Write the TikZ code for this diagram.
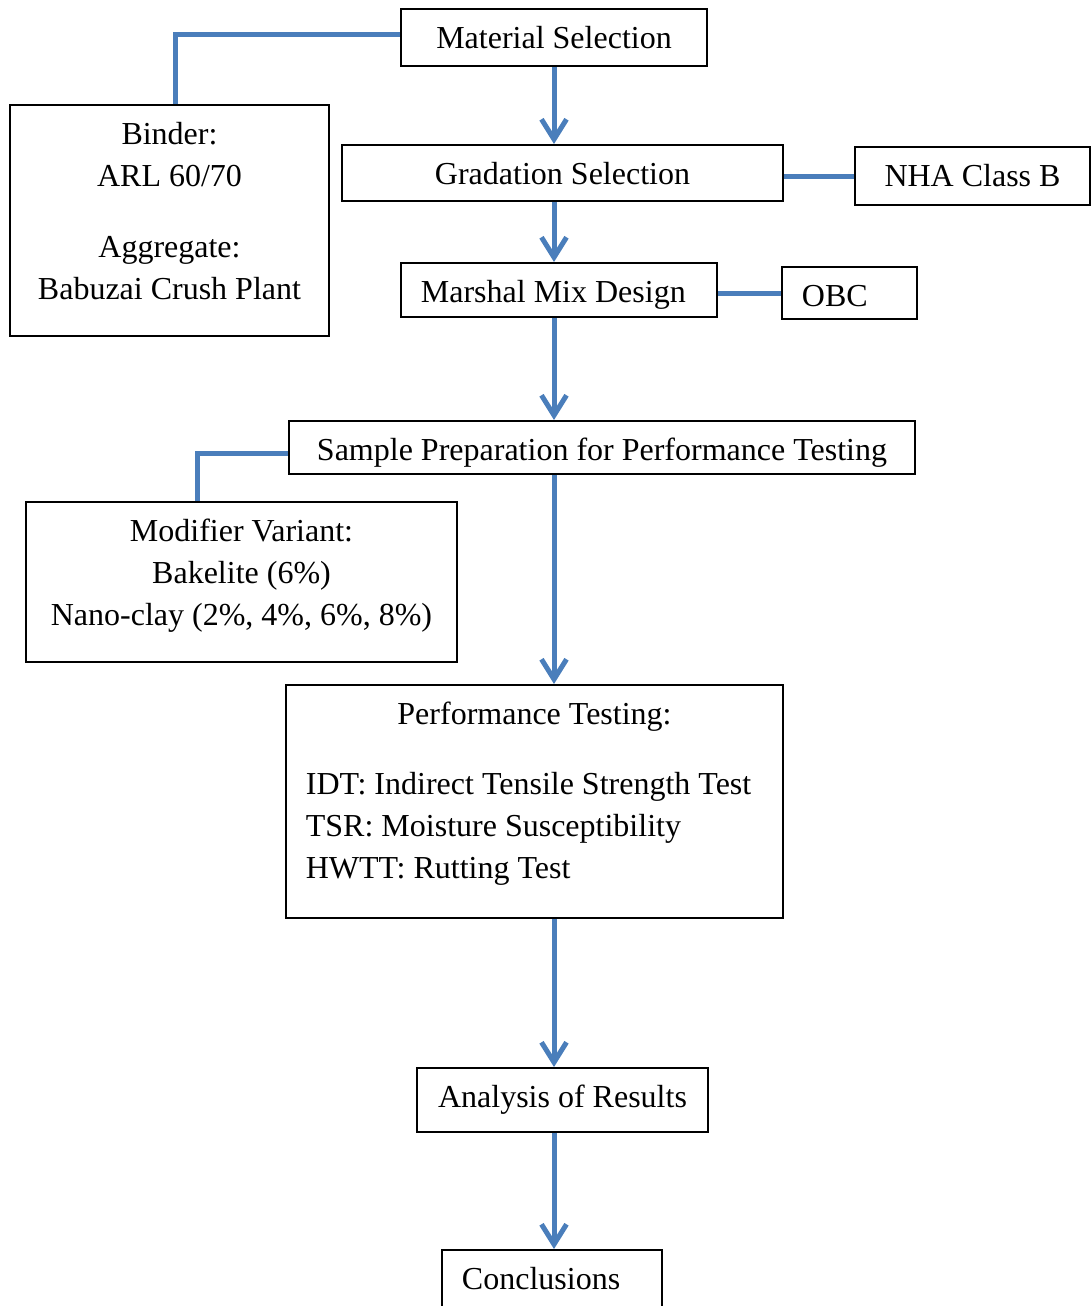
\documentclass[tikz,border=0pt]{standalone}
\usepackage{fontspec}
\setmainfont{Liberation Serif}
\usetikzlibrary{arrows.meta}
\definecolor{linkblue}{HTML}{4A7EBB}

\begin{document}
\begin{tikzpicture}[x=0.01cm,y=-0.01cm,font=\fontsize{9.1pt}{11.95pt}\selectfont,
		stage/.style={draw=black,line width=0.6pt,anchor=north,inner xsep=0.2cm,inner ysep=0pt,
			text height=0.39cm,text depth=#1-0.39cm,minimum height=#1,
			execute at begin node={\spaceskip=0.25em\xspaceskip=0.25em\relax}},
		link/.style={draw=linkblue,line width=0.05cm},
		flow/.style={link,-{Straight Barb[length=0.2cm,width=0.25cm]}}]
		\useasboundingbox (0,0) rectangle (1091,1306);
		\clip (0,0) rectangle (1091,1306);
		%
		\node [stage=0.57cm,minimum width=3.06cm] (mat) at (554,8) {Material Selection};
		\node [stage=2.31cm,inner xsep=0.05cm,text width=3.09cm,align=center] (binder) at (169.5,104)
		{Binder:\\ ARL 60/70\\[0.29cm] Aggregate:\\ Babuzai Crush Plant};
		\node [stage=0.56cm,minimum width=4.41cm] (grad) at (562.5,144) {Gradation Selection};
		\node [stage=0.58cm,minimum width=2.35cm] (nha) at (972.5,146) {NHA Class B};
		\node [stage=0.54cm,text width=2.76cm,align=left] (marsh) at (559,262) {Marshal Mix Design};
		\node [stage=0.52cm,text width=0.95cm,align=left] (obc) at (849.5,266) {OBC};
		\node [stage=0.53cm,minimum width=6.26cm] (samp) at (602,420) {Sample Preparation for Performance Testing};
		\node [stage=1.60cm,inner xsep=0.05cm,text width=4.21cm,align=center] (modif) at (241.5,501)
		{Modifier Variant:\\ Bakelite (6\%)\\ Nano-clay (2\%, 4\%, 6\%, 8\%)};
		\node [stage=2.33cm,text width=4.57cm,align=left] (perf) at (534.5,684)
		{\makebox[\linewidth]{Performance Testing:}\\[0.28cm]
			IDT: Indirect Tensile Strength Test\\ TSR: Moisture Susceptibility\\ HWTT: Rutting Test};
		\node [stage=0.64cm,minimum width=2.91cm] (anal) at (562.5,1067) {Analysis of Results};
		\node [stage=0.60cm,text width=1.80cm,align=left] (conc) at (552,1249) {Conclusions};
		%
		\draw [link] ([yshift=0.035cm]mat.west) -| ([xshift=0.055cm]binder.north);
		\draw [link] (nha.west) -- (nha.west -| grad.east);
		\draw [link] (obc.west) -- (obc.west -| marsh.east);
		\draw [link] ([yshift=-0.055cm]samp.west) -| ([xshift=-0.435cm]modif.north);
		%
		\draw [flow] (mat.south) -- (mat.south |- grad.north);
		\draw [flow] (grad.south -| mat.south) -- (marsh.north -| mat.south);
		\draw [flow] (marsh.south -| mat.south) -- (samp.north -| mat.south);
		\draw [flow] (samp.south -| mat.south) -- (perf.north -| mat.south);
		\draw [flow] (perf.south -| mat.south) -- (anal.north -| mat.south);
		\draw [flow] (anal.south -| mat.south) -- (conc.north -| mat.south);
	\end{tikzpicture}
\end{document}
